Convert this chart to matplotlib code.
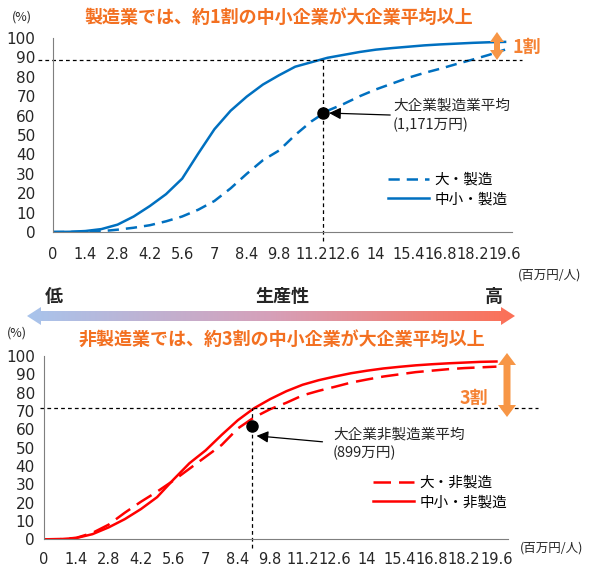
import matplotlib
matplotlib.use('Agg')
import matplotlib.pyplot as plt
import numpy as np
from matplotlib.patches import Polygon
from matplotlib.transforms import offset_copy
from matplotlib.font_manager import FontProperties

plt.rcParams['font.family'] = ['DejaVu Sans', 'Noto Sans CJK JP']
JP = ['Noto Sans CJK JP', 'DejaVu Sans']

W, H = 589, 568

# labour productivity (百万円/人)
x_grid = [0, 0.7, 1.4, 2.1, 2.8, 3.5, 4.2, 4.9, 5.6, 6.3, 7.0, 7.7, 8.4, 9.1, 9.8,
          10.5, 11.2, 11.9, 12.6, 13.3, 14.0, 14.7, 15.4, 16.1, 16.8, 17.5, 18.2, 18.9, 19.6]
x_ticks = [0, 1.4, 2.8, 4.2, 5.6, 7, 8.4, 9.8, 11.2, 12.6, 14, 15.4, 16.8, 18.2, 19.6]
x_tick_labels = ['0', '1.4', '2.8', '4.2', '5.6', '7', '8.4', '9.8', '11.2', '12.6',
                 '14', '15.4', '16.8', '18.2', '19.6']
y_ticks = [0, 10, 20, 30, 40, 50, 60, 70, 80, 90, 100]

# cumulative share (%) - manufacturing
mfg_large = [0, 0, 0.1, 0.4, 1.2, 2.2, 3.5, 5.5, 8, 11.5, 16, 22.5, 30, 37, 42,
             50, 57, 62.5, 66, 70, 73.5, 76.5, 79.5, 82, 84.2, 86.6, 88.9, 91.3, 94]
mfg_sme = [0, 0.1, 0.5, 1.5, 3.8, 8, 13.4, 19.5, 27.5, 40.5, 53, 62.5, 69.8, 76, 80.8,
           85.2, 87.5, 89.8, 91.3, 92.8, 94, 94.8, 95.5, 96.2, 96.7, 97.1, 97.5, 97.8, 98]
mfg_avg_x = 11.71      # 1,171万円
mfg_avg_y = 61.3
mfg_cut = 88.7

# cumulative share (%) - non-manufacturing
non_large = [0, 0.1, 0.8, 3.5, 8, 14.5, 20.5, 26, 32, 38.5, 45, 51.5, 60.5, 66.5, 71,
             74.5, 78.5, 81, 83.2, 85.5, 87.2, 88.8, 90, 91.2, 92, 92.8, 93.4, 93.8, 94.2]
non_sme = [0, 0.1, 0.7, 2.8, 6.5, 11, 16.5, 23, 32.5, 41.5, 48.5, 57, 65, 71.5, 76.5,
           80.8, 84.3, 86.8, 88.8, 90.6, 92, 93.2, 94.1, 94.9, 95.5, 96, 96.4, 96.8, 97]
non_avg_x = 8.99       # 899万円
non_avg_y = 61.9
non_cut = 71.6

BLUE = '#0070C0'
RED = '#FF0000'
ORANGE_T = '#F37021'
ORANGE_A = '#F79646'
AXC = '#7F7F7F'
TXT = '#262626'

fig = plt.figure(figsize=(W / 100, H / 100), dpi=100)


def px(x, y):
    return x / W, 1 - y / H


def style_axes(ax, xmax, ypad, xpad):
    ax.set_xlim(0, xmax)
    ax.set_ylim(0, 100)
    for s in ['top', 'right']:
        ax.spines[s].set_visible(False)
    for s in ['left', 'bottom']:
        ax.spines[s].set_color(AXC)
        ax.spines[s].set_linewidth(0.8)
    ax.set_yticks(y_ticks)
    ax.set_yticklabels([str(v) for v in y_ticks], fontsize=11, color=TXT)
    ax.set_xticks(x_ticks)
    ax.set_xticklabels(x_tick_labels, fontsize=10.5, color=TXT)
    ax.tick_params(axis='y', length=0, pad=ypad)
    ax.tick_params(axis='x', length=0, pad=xpad)
    ax.set_yticks([100], minor=True)
    ax.tick_params(axis='y', which='minor', direction='in', length=4, color=AXC)
    ax.patch.set_visible(False)


# ---------- top chart: manufacturing ----------
ax1 = fig.add_axes([53 / W, 1 - 232 / H, (512 - 53) / W, (232 - 38) / H])
style_axes(ax1, 19.9, 12.5, 10.5)
l1, = ax1.plot(x_grid, mfg_large, color=BLUE, lw=1.8, dashes=(4.5, 2.8))
l2, = ax1.plot(x_grid, mfg_sme, color=BLUE, lw=1.8)
ax1.axhline(mfg_cut, xmin=-0.033, xmax=1.022, color='black', lw=0.9,
            dashes=(3, 2.5), clip_on=False)
ax1.axvline(mfg_avg_x, ymin=-0.045, ymax=mfg_cut / 100, color='black', lw=0.9,
            dashes=(3, 2.5), clip_on=False)
ax1.plot([mfg_avg_x], [mfg_avg_y], 'o', color='black', ms=8, zorder=5)
ax1.annotate('', xy=(mfg_avg_x, mfg_avg_y),
             xycoords=offset_copy(ax1.transData, fig=fig, x=6, y=0, units='dots'),
             xytext=(44, -1.4), textcoords='offset points',
             arrowprops=dict(arrowstyle='-|>,head_length=0.7,head_width=0.35',
                             color='black', lw=0.9, shrinkA=0, shrinkB=0,
                             mutation_scale=10))
ax1.legend([l1, l2], ['大・製造', '中小・製造'], loc='upper left',
           bbox_to_anchor=px(388, 173), bbox_transform=fig.transFigure,
           frameon=False, handlelength=2.8, handletextpad=0.4, labelspacing=0.35,
           borderpad=0, borderaxespad=0, prop=FontProperties(family=JP, size=10.5))

# ---------- bottom chart: non-manufacturing ----------
ax2 = fig.add_axes([44 / W, 1 - 539.3 / H, (508 - 44) / W, (539.3 - 356) / H])
style_axes(ax2, 20.1, 6.5, 9.5)
l3, = ax2.plot(x_grid, non_large, color=RED, lw=1.8, dashes=(7, 3.2))
l4, = ax2.plot(x_grid, non_sme, color=RED, lw=1.8)
ax2.axhline(non_cut, xmin=-0.009, xmax=1.065, color='black', lw=0.9,
            dashes=(3, 2.5), clip_on=False)
ax2.axvline(non_avg_x, ymin=-0.047, ymax=non_cut / 100, color='black', lw=0.9,
            dashes=(3, 2.5), clip_on=False)
ax2.plot([non_avg_x], [non_avg_y], 'o', color='black', ms=8, zorder=5)
ax2.annotate('', xy=(non_avg_x, non_avg_y),
             xycoords=offset_copy(ax2.transData, fig=fig, x=5, y=-10, units='dots'),
             xytext=(47.5, -4.3), textcoords='offset points',
             arrowprops=dict(arrowstyle='-|>,head_length=0.7,head_width=0.35',
                             color='black', lw=0.9, shrinkA=0, shrinkB=0,
                             mutation_scale=10))
ax2.legend([l3, l4], ['大・非製造', '中小・非製造'], loc='upper left',
           bbox_to_anchor=px(373, 476), bbox_transform=fig.transFigure,
           frameon=False, handlelength=2.8, handletextpad=0.4, labelspacing=0.35,
           borderpad=0, borderaxespad=0, prop=FontProperties(family=JP, size=10.5))

# ---------- overlay in pixel coordinates ----------
ov = fig.add_axes([0, 0, 1, 1])
ov.set_xlim(0, W)
ov.set_ylim(H, 0)
ov.axis('off')


def double_arrow(x, y0, y1, shaft, head_w, head_l, color):
    pts = [(x, y0), (x + head_w / 2, y0 + head_l), (x + shaft / 2, y0 + head_l),
           (x + shaft / 2, y1 - head_l), (x + head_w / 2, y1 - head_l), (x, y1),
           (x - head_w / 2, y1 - head_l), (x - shaft / 2, y1 - head_l),
           (x - shaft / 2, y0 + head_l), (x - head_w / 2, y0 + head_l)]
    ov.add_patch(Polygon(pts, closed=True, color=color, lw=0))


double_arrow(497, 32, 60, 6, 14, 10, ORANGE_A)
double_arrow(507, 353, 417, 7, 18, 12, ORANGE_A)

# productivity gradient arrow
xl, xr, yc = 27, 515, 316
hh, sh, hl = 9, 5, 14
arrow_pts = [(xl, yc), (xl + hl, yc - hh), (xl + hl, yc - sh), (xr - hl, yc - sh),
             (xr - hl, yc - hh), (xr, yc), (xr - hl, yc + hh), (xr - hl, yc + sh),
             (xl + hl, yc + sh), (xl + hl, yc + hh)]
clip = Polygon(arrow_pts, closed=True, facecolor='none', edgecolor='none')
ov.add_patch(clip)
c_left = np.array([168, 196, 236]) / 255
c_mid = np.array([214, 160, 185]) / 255
c_right = np.array([252, 112, 86]) / 255
t = np.linspace(0, 1, 256)[:, None]
grad = np.where(t < 0.5, c_left + (c_mid - c_left) * t * 2,
                c_mid + (c_right - c_mid) * (t - 0.5) * 2)
im = ov.imshow(grad[None, :, :], extent=(xl, xr, yc + hh, yc - hh), aspect='auto',
               interpolation='bilinear')
im.set_clip_path(clip)
ov.set_xlim(0, W)
ov.set_ylim(H, 0)

# texts
fig.text(*px(279, 17), '製造業では、約1割の中小企業が大企業平均以上', family=JP,
         fontsize=13, fontweight='bold', color=ORANGE_T, ha='center', va='center')
fig.text(*px(282, 340), '非製造業では、約3割の中小企業が大企業平均以上', family=JP,
         fontsize=13, fontweight='bold', color=ORANGE_T, ha='center', va='center')
fig.text(*px(22, 17), '(%)', family=JP, fontsize=9, color=TXT, ha='center', va='center')
fig.text(*px(17, 333), '(%)', family=JP, fontsize=9, color=TXT, ha='center', va='center')
fig.text(*px(550, 275), '(百万円/人)', family=JP, fontsize=9, color=TXT,
         ha='center', va='center')
fig.text(*px(552, 548), '(百万円/人)', family=JP, fontsize=9, color=TXT,
         ha='center', va='center')
fig.text(*px(512, 47), '1割', family=JP, fontsize=13, fontweight='bold',
         color='#F58233', ha='left', va='center')
fig.text(*px(460, 398), '3割', family=JP, fontsize=13, fontweight='bold',
         color='#F58233', ha='left', va='center')
fig.text(*px(393, 106), '大企業製造業平均', family=JP, fontsize=10.5, color=TXT,
         ha='left', va='center')
fig.text(*px(393, 125), '(1,171万円)', family=JP, fontsize=10.5, color=TXT,
         ha='left', va='center')
fig.text(*px(333, 435), '大企業非製造業平均', family=JP, fontsize=10.5, color=TXT,
         ha='left', va='center')
fig.text(*px(333, 453), '(899万円)', family=JP, fontsize=10.5, color=TXT,
         ha='left', va='center')
fig.text(*px(54, 296), '低', family=JP, fontsize=13, fontweight='bold', color=TXT,
         ha='center', va='center')
fig.text(*px(282, 296), '生産性', family=JP, fontsize=13, fontweight='bold', color=TXT,
         ha='center', va='center')
fig.text(*px(494, 296), '高', family=JP, fontsize=13, fontweight='bold', color=TXT,
         ha='center', va='center')

fig.savefig('out.png', dpi=100)
